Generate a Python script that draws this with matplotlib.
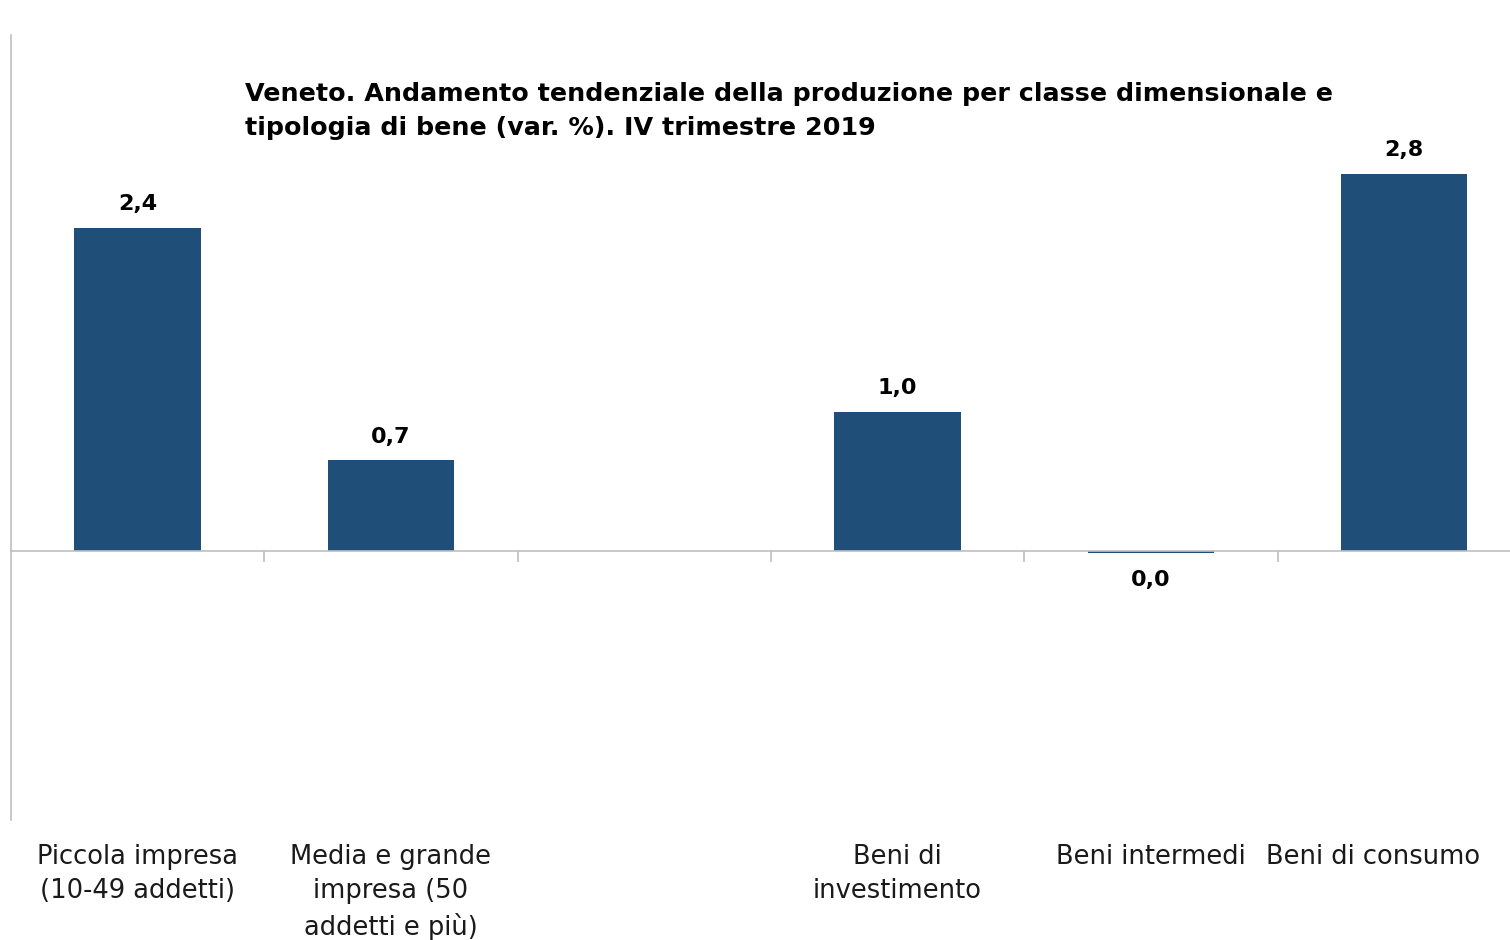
import matplotlib.pyplot as plt
import matplotlib.transforms as mtransforms

# Dati
categorie = ['Piccola impresa\n(10-49 addetti)',
             'Media e grande\nimpresa (50\naddetti e più)',
             '',
             'Beni di\ninvestimento',
             'Beni intermedi',
             'Beni di consumo']
valori = [2.4, 0.67, None, 1.03, -0.02, 2.8]
etichette = ['2,4', '0,7', '', '1,0', '0,0', '2,8']

titolo = ('Veneto. Andamento tendenziale della produzione per classe dimensionale e\n'
          'tipologia di bene (var. %). IV trimestre 2019')

colore_barre = '#1f4e79'
grigio = '#bfbfbf'

fig = plt.figure(figsize=(15.1, 9.4), dpi=100)
ax = fig.add_axes([11 / 1510, 120 / 940, 1499 / 1510, 785 / 940])

x = [i for i, v in enumerate(valori) if v is not None]
y = [v for v in valori if v is not None]
ax.bar(x, y, width=0.5, color=colore_barre, zorder=2)

ax.set_xlim(-0.5, -0.5 + 1499 / 253.3)
ax.set_ylim(-2.0, 3.83)

# etichette dei valori
for i, v in enumerate(valori):
    if v is None:
        continue
    if v >= 0:
        ax.annotate(etichette[i], (i, v), xytext=(0, 10), textcoords='offset points',
                    ha='center', va='bottom', fontsize=16, fontweight='bold',
                    family='DejaVu Sans', color='black')
    else:
        ax.annotate(etichette[i], (i, v), xytext=(0, -12), textcoords='offset points',
                    ha='center', va='top', fontsize=16, fontweight='bold',
                    family='DejaVu Sans', color='black')

# assi
for lato in ['top', 'right']:
    ax.spines[lato].set_visible(False)
ax.spines['bottom'].set_position(('data', 0))
ax.spines['bottom'].set_color(grigio)
ax.spines['left'].set_color(grigio)
ax.spines['bottom'].set_linewidth(1.2)
ax.spines['left'].set_linewidth(1.2)
ax.set_yticks([])
ax.set_xticks([i + 0.5 for i in range(len(categorie) - 1)])
ax.set_xticklabels([])
ax.tick_params(axis='x', direction='out', length=8, color=grigio, width=1.2)

# etichette categorie sotto il grafico
trans = mtransforms.blended_transform_factory(ax.transData, fig.transFigure)
for i, cat in enumerate(categorie):
    dx = -31 if i == len(categorie) - 1 else 0
    ax.annotate(cat, (i, 1 - 844 / 940), xycoords=trans, xytext=(dx * 0.72, 0),
                textcoords='offset points', ha='center', va='top',
                fontsize=18.5, family='DejaVu Sans',
                linespacing=1.41, color='#1a1a1a', annotation_clip=False)

fig.text(245 / 1510, 1 - 82 / 940, titolo, ha='left', va='top', fontsize=18.3,
         fontweight='bold', family='DejaVu Sans', linespacing=1.52)

fig.savefig('out.png', dpi=100)
